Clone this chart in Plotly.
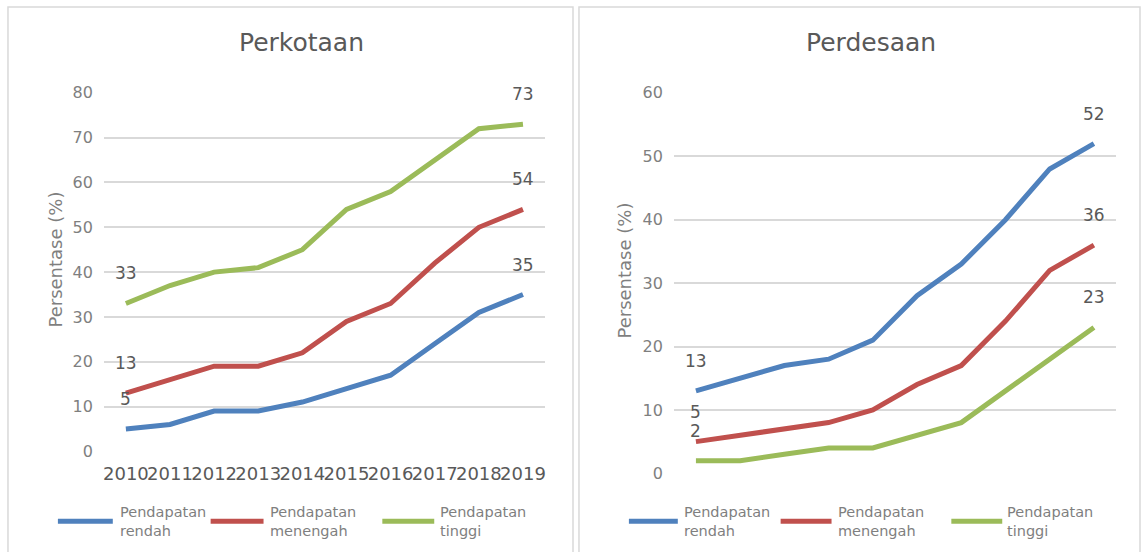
import plotly.graph_objects as go

# ---------------- data ----------------
years = ["2010", "2011", "2012", "2013", "2014", "2015", "2016", "2017", "2018", "2019"]
series_names = ["Pendapatan rendah", "Pendapatan menengah", "Pendapatan tinggi"]
series_colors = ["#4F81BD", "#C0504D", "#9BBB59"]

kota_rendah = [5, 6, 9, 9, 11, 14, 17, 24, 31, 35]
kota_menengah = [13, 16, 19, 19, 22, 29, 33, 42, 50, 54]
kota_tinggi = [33, 37, 40, 41, 45, 54, 58, 65, 72, 73]

desa_rendah = [13, 15, 17, 18, 21, 28, 33, 40, 48, 52]
desa_menengah = [5, 6, 7, 8, 10, 14, 17, 24, 32, 36]
desa_tinggi = [2, 2, 3, 4, 4, 6, 8, 13, 18, 23]

kota_ticks = [0, 10, 20, 30, 40, 50, 60, 70, 80]
desa_ticks = [0, 10, 20, 30, 40, 50, 60]

W, H = 1142, 552
FONT = "DejaVu Sans"
GRID = "#d9d9d9"
TICKC = "#7f7f7f"
TXT = "#595959"

# vertical calibration of the page capture
VOFF, VSCALE = 8.0, 0.967

def px(x):
    return x / W

def py(y):
    return 1 - ((y - VOFF) / VSCALE) / H

fig = go.Figure()

panels = [
    ("x", "y", [kota_rendah, kota_menengah, kota_tinggi]),
    ("x2", "y2", [desa_rendah, desa_menengah, desa_tinggi]),
]

annotations = []
for xa, ya, data in panels:
    for name, color, vals in zip(series_names, series_colors, data):
        fig.add_trace(go.Scatter(
            x=years, y=vals, mode="lines", name=name,
            line=dict(color=color, width=5), xaxis=xa, yaxis=ya,
            showlegend=False, hoverinfo="x+y+name"))
        for i in (0, len(vals) - 1):
            annotations.append(dict(
                x=i, y=vals[i], xref=xa, yref=ya, text=str(vals[i]),
                showarrow=False, yshift=30, xanchor="center", yanchor="middle",
                font=dict(family=FONT, size=17, color=TXT)))

fig.update_layout(
    width=W, height=H,
    margin=dict(l=0, r=0, t=0, b=0),
    paper_bgcolor="white", plot_bgcolor="white",
    font=dict(family=FONT, color=TICKC),
    xaxis=dict(domain=[px(103), px(545)], type="category", range=[-0.5, 9.5],
               showgrid=False, showline=False, ticks="", anchor="y", tickangle=0,
               tickfont=dict(size=18, color=TXT), ticklabelstandoff=10),
    yaxis=dict(domain=[py(451), py(92)], range=[0, 80], tickvals=kota_ticks,
               gridcolor=GRID, gridwidth=1.5, zeroline=False, showline=False,
               tickfont=dict(size=16, color=TICKC), anchor="x", ticklabelstandoff=10),
    xaxis2=dict(domain=[px(674), px(1117)], type="category", range=[-0.5, 9.5],
                showgrid=False, showline=False, ticks="", showticklabels=False, anchor="y2"),
    yaxis2=dict(domain=[py(473), py(92)], range=[0, 60], tickvals=desa_ticks,
                gridcolor=GRID, gridwidth=1.5, zeroline=False, showline=False,
                tickfont=dict(size=16, color=TICKC), anchor="x2", ticklabelstandoff=10),
)

def ann(x, y, text, size, color, **kw):
    d = dict(x=px(x), y=py(y), xref="paper", yref="paper", text=text, showarrow=False,
             xanchor="center", yanchor="middle", font=dict(family=FONT, size=size, color=color))
    d.update(kw)
    annotations.append(d)

# titles
ann(301, 42, "Perkotaan", 25, TXT)
ann(872, 42, "Perdesaan", 25, TXT)
# axis titles
ann(55, 259, "Persentase (%)", 18, TICKC, textangle=-90)
ann(625, 270, "Persentase (%)", 18, TICKC, textangle=-90)

# manual legends (layout only)
shapes = []
legend_layout = [
    [(57, 112, 117), (210, 263, 267), (382, 434, 438)],
    [(629, 678, 682), (781, 832, 836), (952, 1003, 1006)],
]
for row in legend_layout:
    for (x0, x1, tx), name, color in zip(row, series_names, series_colors):
        shapes.append(dict(type="line", xref="paper", yref="paper",
                           x0=px(x0), x1=px(x1), y0=py(521), y1=py(521),
                           line=dict(color=color, width=5)))
        first, rest = name.split(" ", 1)
        ann(tx, 521, first + "<br>" + rest, 14.5, TICKC, xanchor="left", align="left")

# panel borders
shapes.append(dict(type="rect", xref="paper", yref="paper", x0=px(7), x1=px(573),
                   y0=-0.05, y1=py(6), line=dict(color=GRID, width=1.5)))
shapes.append(dict(type="rect", xref="paper", yref="paper", x0=px(579), x1=px(1141),
                   y0=-0.05, y1=py(6), line=dict(color=GRID, width=1.5)))

fig.update_layout(annotations=annotations, shapes=shapes)
fig.write_html(
    "out.html",
    config={"displayModeBar": False},
    post_script="document.body.style.margin='0px';document.body.style.padding='0px';"
                "document.documentElement.style.overflow='hidden';",
)
